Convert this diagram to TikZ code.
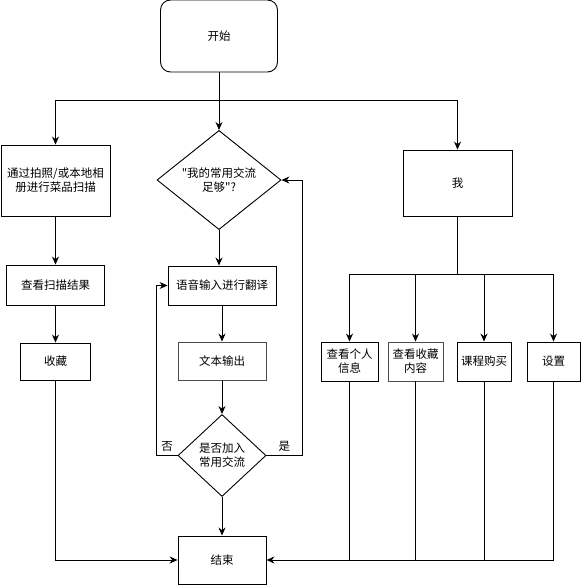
\documentclass[tikz,border=0pt]{standalone}
\usepackage{fontspec}
\newfontfamily\cjk{Noto Sans CJK SC}
\usetikzlibrary{arrows.meta,shapes.geometric}
\tikzstyle{box}=[rectangle,draw,line width=0.9pt,font=\cjk\fontsize{11.5}{14}\selectfont,align=center,inner sep=0pt]
\tikzstyle{decision}=[diamond,draw,line width=0.9pt,font=\cjk\fontsize{11.5}{14}\selectfont,align=center,inner sep=0pt]
\tikzstyle{edge} = [draw,line width=0.9pt,-{Stealth[length=8pt,width=7pt]}]
\tikzstyle{line} = [draw,line width=0.9pt]
\tikzstyle{weight} = [font=\cjk\fontsize{11.5}{14}\selectfont]

\begin{document}
\begin{tikzpicture}[x=1pt,y=-1pt]
    \useasboundingbox (0,0) rectangle (581,585);

    \node[box, rounded corners=10pt, minimum width=117pt, minimum height=72pt] (start) at (219,36) {开始};

    \foreach \x/\y/\w/\h/\name/\txt in {55.5/180.5/109/71/scan/{通过拍照/或本地相\\册进行菜品扫描},
        55.5/285/98/40/result/{查看扫描结果}, 55.5/361.5/70/37/fav/{收藏},
        222/285.5/108/39/voice/{语音输入进行翻译}, 222/560/88/48/end/{结束},
        457.5/183/109/66/me/{我}, 349.5/361.5/57/39/info/{查看个人\\信息},
        484/361.5/54/39/buy/{课程购买}, 553.5/361.5/53/39/set/{设置}}
        \node[box, minimum width=\w pt, minimum height=\h pt] (\name) at (\x,\y) {\txt};

    \foreach \x/\y/\w/\h/\name/\txt in {222/361/88/38/text/{文本输出}, 415.5/361.5/55/39/collect/{查看收藏\\内容}}
        \node[box, draw=black!70, minimum width=\w pt, minimum height=\h pt] (\name) at (\x,\y) {\txt};

    \node[decision, minimum width=124pt, minimum height=75pt] (d1) at (219,180) {"我的常用交流\\足够"?};
    \node[decision, minimum width=88pt, minimum height=82pt] (d2) at (222,455.5) {是否加入\\常用交流};

    \coordinate (split) at (219,100);
    \coordinate (fork) at (457.5,274);

    \path[edge] (start) -- (d1);
    \path[edge] (split) -| (scan);
    \path[edge] (split) -| (me);

    \foreach \source/\dest in {scan/result, result/fav, voice/text, text/d2, d2/end}
        \path[edge] (\source) -- (\dest);
    \path[edge] (fav) |- (end);
    \path[edge] (d1) -- (d1.south |- voice.north);

    \path[edge] (d2.west) -- node[above, weight] (no) {否} ++(-21,0) |- (voice);
    \path[edge] (d2.east) -- node[above, weight] (yes) {是} ++(36,0) |- (d1);

    \path[line] (me) -- (fork);
    \foreach \dest in {info, collect, buy, set}
        \path[edge] (fork) -| (\dest);
    \foreach \source in {info, collect, buy}
        \path[line] (\source) -- (\source |- end);
    \path[edge] (set) |- (end);
\end{tikzpicture}
\end{document}
